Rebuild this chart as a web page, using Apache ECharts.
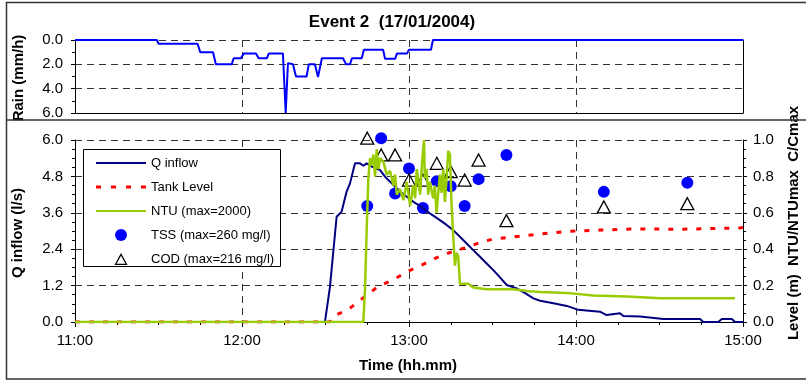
<!DOCTYPE html>
<html>
<head>
<meta charset="utf-8">
<script src="https://cdn.jsdelivr.net/npm/echarts@6/dist/echarts.min.js"></script>
<style>
  html, body { margin: 0; padding: 0; background: #fff; }
  #chart { width: 806px; height: 381px; }
</style>
</head>
<body>
<div id="chart"></div>
<script>
// times are minutes since midnight (660 = 11:00)
var rainTime = [660, 689.4, 690, 704, 705, 709.6, 710.6, 716.3, 717, 719.6, 720.7, 725, 726, 728.9, 729.7, 734.7, 735.7, 736.5, 738.3, 739.4, 743.2, 744, 746.2, 747.3, 748, 748.7, 756.3, 757.4, 758.8, 759.5, 763, 763.8, 770.7, 771.4, 775, 775.7, 779.3, 780, 787.9, 788.6, 900];
var rainMm = [0, 0, 0.3, 0.3, 1.0, 1.0, 2.0, 2.0, 1.5, 1.5, 1.1, 1.1, 1.5, 1.5, 1.1, 1.1, 6.0, 1.9, 2.0, 3.0, 3.0, 2.0, 2.0, 3.05, 3.0, 1.5, 1.5, 2.0, 2.0, 1.5, 1.5, 0.8, 0.8, 1.55, 1.55, 1.1, 1.1, 0.8, 0.8, 0, 0];

var qTime = [660, 749.8, 751.6, 754.0, 755.8, 757.6, 758.8, 760.6, 762.4, 763.6, 764.8, 766.0, 767.8, 769.6, 771.4, 773.8, 776.8, 779.2, 781.5, 785.1, 787.5, 791.1, 793.5, 795.9, 798.3, 800.7, 803.1, 805.5, 807.9, 810.3, 812.7, 815.1, 818.7, 821.7, 824.7, 827.1, 831.9, 836.7, 840.8, 848.6, 851.0, 855.8, 857.0, 863.0, 871.4, 884.6, 885.7, 891.1, 892.4, 896.0, 897.1, 900];
var qFlow = [0, 0, 1.16, 3.47, 3.64, 4.30, 4.57, 5.23, 5.23, 5.15, 5.23, 5.15, 5.07, 5.01, 4.79, 4.57, 4.30, 4.13, 3.97, 3.75, 3.58, 3.36, 3.20, 3.03, 2.81, 2.59, 2.37, 2.15, 1.93, 1.71, 1.47, 1.22, 1.11, 0.95, 0.78, 0.70, 0.62, 0.53, 0.40, 0.34, 0.23, 0.29, 0.20, 0.18, 0.10, 0.10, 0, 0, 0.10, 0.10, 0, 0];

var levelTime = [660, 751.6, 752.8, 758.8, 764.2, 769.0, 774.4, 779.8, 785.1, 790.0, 795.3, 800.7, 805.5, 810.3, 816.3, 821.1, 827.1, 836.7, 848.6, 860.6, 878.6, 898.9, 900];
var level = [0, 0, 0.03, 0.076, 0.14, 0.196, 0.233, 0.28, 0.317, 0.354, 0.385, 0.41, 0.437, 0.456, 0.465, 0.474, 0.483, 0.498, 0.505, 0.511, 0.51, 0.517, 0.52];

var ntuTime = [660, 763.6, 764.2, 764.8, 765.4, 766.0, 766.6, 767.2, 767.8, 768.4, 769.0, 769.6, 770.8, 772.0, 773.2, 774.4, 775.0, 775.6, 776.8, 778.0, 779.2, 780.4, 781.5, 782.2, 782.8, 784.0, 784.8, 785.4, 785.7, 786.3, 786.9, 787.5, 788.7, 789.3, 789.9, 791.1, 791.7, 792.3, 792.9, 793.5, 794.1, 794.7, 795.3, 795.9, 796.5, 797.1, 797.7, 798.3, 798.9, 801.3, 803.1, 807.9, 817.5, 822.3, 827.1, 836.7, 846.2, 858.2, 870.2, 897.1];
var ntu = [0, 0, 0.18, 0.51, 0.79, 0.90, 0.86, 0.92, 0.80, 0.95, 0.84, 0.90, 0.88, 0.81, 0.83, 0.75, 0.81, 0.70, 0.73, 0.67, 0.77, 0.64, 0.75, 0.68, 0.84, 0.70, 0.90, 1.0, 0.79, 0.84, 0.70, 0.77, 0.68, 0.75, 0.60, 0.81, 0.71, 0.84, 0.66, 0.79, 0.94, 0.92, 0.64, 0.47, 0.31, 0.38, 0.36, 0.21, 0.20, 0.21, 0.19, 0.18, 0.18, 0.17, 0.165, 0.16, 0.146, 0.14, 0.13, 0.13];

var sampleTime = [765, 770, 775, 780, 785, 790, 795, 800, 805, 815, 850, 880];
var tss = [0.637, 1.01, 0.706, 0.844, 0.626, 0.774, 0.746, 0.637, 0.785, 0.918, 0.715, 0.765];
var cod = [1.01, 0.918, 0.918, 0.78, 0.78, 0.872, 0.826, 0.78, 0.89, 0.557, 0.632, 0.65];

var FONT = 'Liberation Sans';

function zip(a, b) {
  var res = [];
  for (var i = 0; i < a.length; i++) res.push([a[i], b[i]]);
  return res;
}

function hhmm(v) {
  var h = Math.floor(v / 60), m = Math.round(v % 60);
  return h + ':' + (m < 10 ? '0' + m : m);
}

var gridDash = { show: true, lineStyle: { color: '#333', type: [7, 5], width: 1 } };
var blackLine = { show: true, onZero: false, lineStyle: { color: '#000', width: 1 } };
var tickLabel = { color: '#000', fontSize: 15, fontFamily: FONT };

// legend icons drawn as paths so the line samples carry no symbol
var solidIcon = 'path://M0,0h52v2.2h-52z';
var dotIcon = 'path://M0,0h5v3h-5z M15,0h5v3h-5z M30,0h5v3h-5z M45,0h5v3h-5z';
var triIcon = 'path://M6,0 L12,11 L0,11 Z M6,2.6 L1.9,9.8 L10.1,9.8 Z';

var chart = echarts.init(document.getElementById('chart'));

var option = {
  animation: false,
  backgroundColor: '#fff',
  grid: [
    { left: 75, right: 63, top: 40, height: 73 },
    { left: 75, right: 63, top: 140, height: 182 }
  ],
  xAxis: [
    {
      type: 'value', gridIndex: 0, min: 660, max: 900, interval: 60,
      axisLine: blackLine, axisTick: { show: false }, axisLabel: { show: false },
      splitLine: gridDash
    },
    {
      type: 'value', gridIndex: 1, min: 660, max: 900, interval: 60,
      axisLine: blackLine,
      axisTick: { show: true, length: 5, lineStyle: { color: '#000' } },
      minorTick: { show: true, splitNumber: 4, length: 3, lineStyle: { color: '#000' } },
      axisLabel: Object.assign({ margin: 11, formatter: hhmm }, tickLabel),
      splitLine: gridDash
    }
  ],
  yAxis: [
    {
      type: 'value', gridIndex: 0, min: 0, max: 6, interval: 2, inverse: true,
      axisLine: blackLine,
      axisTick: { show: true, length: 4, lineStyle: { color: '#000' } },
      minorTick: { show: true, splitNumber: 2, length: 3, lineStyle: { color: '#000' } },
      axisLabel: Object.assign({ margin: 12, formatter: function (v) { return v.toFixed(1); } }, tickLabel),
      splitLine: gridDash
    },
    {
      type: 'value', gridIndex: 0, min: 0, max: 6, position: 'right',
      axisLine: blackLine, axisTick: { show: false }, axisLabel: { show: false },
      splitLine: { show: false }
    },
    {
      type: 'value', gridIndex: 1, min: 0, max: 6, interval: 1.2,
      axisLine: blackLine,
      axisTick: { show: true, length: 4, lineStyle: { color: '#000' } },
      minorTick: { show: true, splitNumber: 4, length: 3, lineStyle: { color: '#000' } },
      axisLabel: Object.assign({ margin: 12, formatter: function (v) { return v.toFixed(1); } }, tickLabel),
      splitLine: gridDash
    },
    {
      type: 'value', gridIndex: 1, min: 0, max: 1, interval: 0.2, position: 'right',
      axisLine: blackLine,
      axisTick: { show: true, length: 4, lineStyle: { color: '#000' } },
      minorTick: { show: true, splitNumber: 4, length: 3, lineStyle: { color: '#000' } },
      axisLabel: Object.assign({ margin: 10, formatter: function (v) { return v.toFixed(1); } }, tickLabel),
      splitLine: { show: false }
    }
  ],
  legend: {
    orient: 'vertical', left: 96, top: 156.5, z: 10, padding: 0,
    itemWidth: 50, itemHeight: 12, itemGap: 11,
    textStyle: { fontSize: 13, fontFamily: FONT, color: '#000' },
    data: [
      { name: 'Q inflow', icon: solidIcon },
      { name: 'Tank Level', icon: dotIcon },
      { name: 'NTU (max=2000)', icon: solidIcon },
      { name: 'TSS (max=260 mg/l)', icon: 'circle' },
      { name: 'COD (max=216 mg/l)', icon: triIcon, itemStyle: { color: '#000', borderWidth: 0 } }
    ]
  },
  graphic: [
    { type: 'rect', z: 1, silent: true, shape: { x: 6.5, y: 2.5, width: 820, height: 376.5 },
      style: { fill: 'none', stroke: '#333', lineWidth: 1.5 } },
    { type: 'line', z: 1, silent: true, shape: { x1: 6.5, y1: 120, x2: 806, y2: 120 },
      style: { stroke: '#333', lineWidth: 1.5 } },
    { type: 'rect', z: 5, silent: true, shape: { x: 83.5, y: 149.5, width: 197, height: 117 },
      style: { fill: '#fff', stroke: '#000', lineWidth: 1 } },
    { type: 'text', x: 392, y: 22, silent: true,
      style: { text: 'Event 2  (17/01/2004)', font: 'bold 17px "Liberation Sans"', fill: '#000',
               textAlign: 'center', textVerticalAlign: 'middle' } },
    { type: 'text', x: 19, y: 78, rotation: Math.PI / 2, silent: true,
      style: { text: 'Rain (mm/h)', font: 'bold 15px "Liberation Sans"', fill: '#000',
               textAlign: 'center', textVerticalAlign: 'middle' } },
    { type: 'text', x: 18, y: 233, rotation: Math.PI / 2, silent: true,
      style: { text: 'Q inflow (l/s)', font: 'bold 15px "Liberation Sans"', fill: '#000',
               textAlign: 'center', textVerticalAlign: 'middle' } },
    { type: 'text', x: 794, y: 223, rotation: Math.PI / 2, silent: true,
      style: { text: 'Level (m)  NTU/NTUmax  C/Cmax', font: 'bold 15px "Liberation Sans"', fill: '#000',
               textAlign: 'center', textVerticalAlign: 'middle' } },
    { type: 'text', x: 408, y: 366, silent: true,
      style: { text: 'Time (hh.mm)', font: 'bold 15px "Liberation Sans"', fill: '#000',
               textAlign: 'center', textVerticalAlign: 'middle' } }
  ],
  series: [
    {
      name: 'Rain', type: 'line', xAxisIndex: 0, yAxisIndex: 0,
      data: zip(rainTime, rainMm), symbol: 'none',
      lineStyle: { color: '#0000ff', width: 2 }
    },
    {
      name: 'Q inflow', type: 'line', xAxisIndex: 1, yAxisIndex: 2,
      data: zip(qTime, qFlow), symbol: 'none',
      itemStyle: { color: '#000080' },
      lineStyle: { color: '#000080', width: 2 }
    },
    {
      name: 'Tank Level', type: 'line', xAxisIndex: 1, yAxisIndex: 3,
      data: zip(levelTime, level), symbol: 'none',
      itemStyle: { color: '#ff0000' },
      lineStyle: { color: '#ff0000', width: 3, type: [5, 9] }
    },
    {
      name: 'NTU (max=2000)', type: 'line', xAxisIndex: 1, yAxisIndex: 3,
      data: zip(ntuTime, ntu), symbol: 'none',
      itemStyle: { color: '#99cc00' },
      lineStyle: { color: '#99cc00', width: 2.5 }
    },
    {
      name: 'TSS (max=260 mg/l)', type: 'scatter', xAxisIndex: 1, yAxisIndex: 3,
      data: zip(sampleTime, tss), symbol: 'circle', symbolSize: 12, clip: false,
      itemStyle: { color: '#0000ff', opacity: 1 }
    },
    {
      name: 'COD (max=216 mg/l)', type: 'scatter', xAxisIndex: 1, yAxisIndex: 3,
      data: zip(sampleTime, cod), symbol: 'triangle', symbolSize: [13, 12], clip: false,
      symbolKeepAspect: true,
      itemStyle: { color: 'rgba(255,255,255,0)', borderColor: '#000', borderWidth: 1.3, opacity: 1 }
    }
  ]
};

chart.setOption(option);
</script>
</body>
</html>
